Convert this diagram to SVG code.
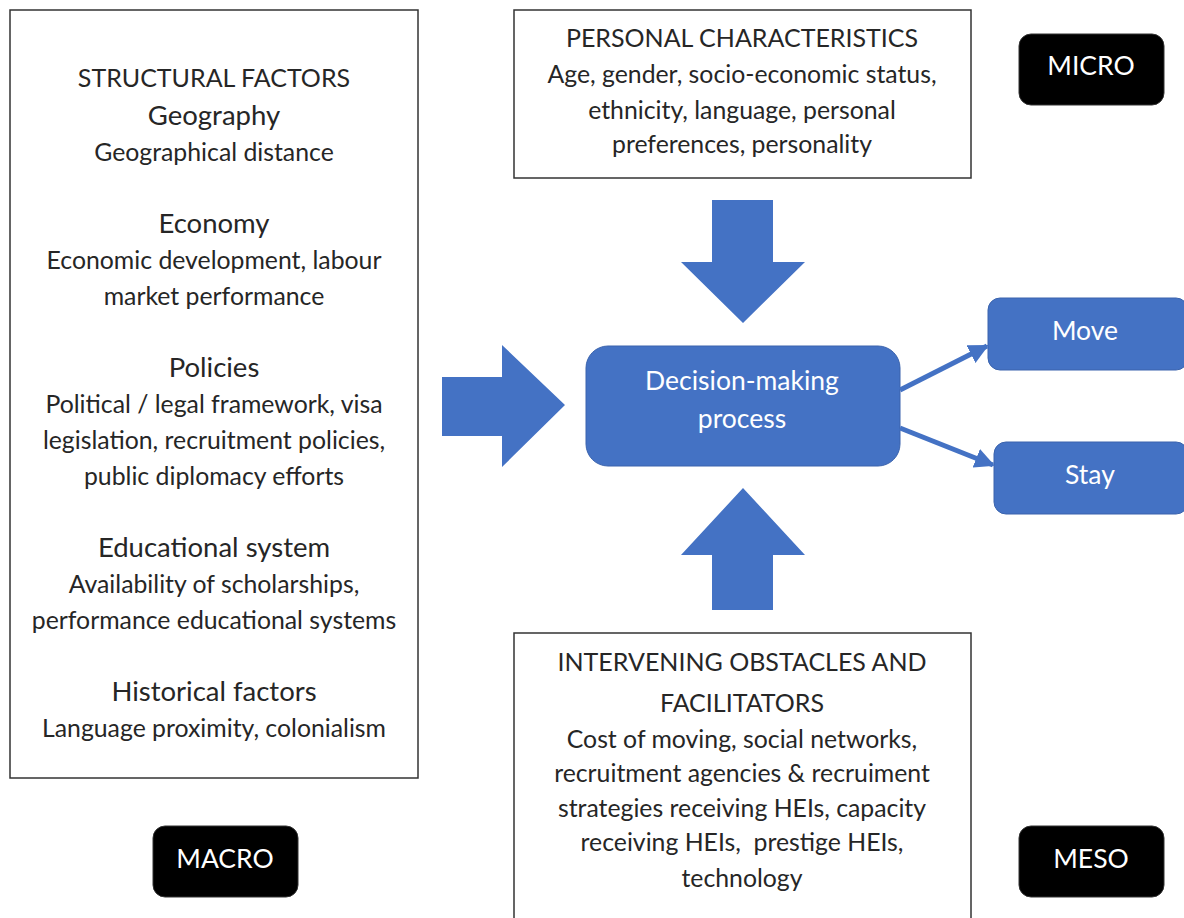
<svg xmlns="http://www.w3.org/2000/svg" width="1184" height="918" viewBox="0 0 1184 918">
<style>
.box{fill:#fff;stroke:#333;stroke-width:1.5}
.lvl{fill:#000;stroke:#333;stroke-width:1}
.blue{fill:#4472C4;stroke:#3a63ad;stroke-width:1}
.arr{fill:#4472C4}
text{font-family:Lato,"Open Sans","Liberation Sans",sans-serif;text-anchor:middle;fill:#262626}
.h{font-size:27.5px}
.c{font-size:25px}
.s{font-size:24.8px}
.w{fill:#fff;font-size:26.5px}
</style>
<defs>
<marker id="ah" viewBox="0 0 10 10" refX="9" refY="5" markerWidth="4" markerHeight="4" orient="auto" markerUnits="strokeWidth">
<path d="M0,0 L10,5 L0,10 z" fill="#4472C4"/>
</marker>
</defs>
<g id="structural">
<rect class="box" x="10" y="10" width="408" height="768"/>
<text class="c" x="214" y="87">STRUCTURAL FACTORS</text>
<text class="h" x="214" y="125">Geography</text>
<text class="s" x="214" y="161">Geographical distance</text>
<text class="h" x="214" y="233">Economy</text>
<text class="s" x="214" y="269">Economic development, labour</text>
<text class="s" x="214" y="305">market performance</text>
<text class="h" x="214" y="377">Policies</text>
<text class="s" x="214" y="413">Political / legal framework, visa</text>
<text class="s" x="214" y="449">legislation, recruitment policies,</text>
<text class="s" x="214" y="485">public diplomacy efforts</text>
<text class="h" x="214" y="557">Educational system</text>
<text class="s" x="214" y="593">Availability of scholarships,</text>
<text class="s" x="214" y="629">performance educational systems</text>
<text class="h" x="214" y="701">Historical factors</text>
<text class="s" x="214" y="737">Language proximity, colonialism</text>
</g>
<g id="personal">
<rect class="box" x="514" y="10" width="457" height="168"/>
<text class="c" x="742" y="47">PERSONAL CHARACTERISTICS</text>
<text class="s" x="742" y="83">Age, gender, socio-economic status,</text>
<text class="s" x="742" y="119">ethnicity, language, personal</text>
<text class="s" x="742" y="153">preferences, personality</text>
</g>
<g id="obstacles">
<rect class="box" x="514" y="633" width="457" height="300"/>
<text class="c" x="742" y="671">INTERVENING OBSTACLES AND</text>
<text class="c" x="742" y="712">FACILITATORS</text>
<text class="s" x="742" y="748">Cost of moving, social networks,</text>
<text class="s" x="742" y="782">recruitment agencies &amp; recruiment</text>
<text class="s" x="742" y="817">strategies receiving HEIs, capacity</text>
<text class="s" x="742" y="851" xml:space="preserve">receiving HEIs,  prestige HEIs,</text>
<text class="s" x="742" y="887">technology</text>
</g>
<g id="decision">
<rect class="blue" x="586" y="346" width="314" height="120" rx="22"/>
<text class="w" x="742" y="390">Decision-making</text>
<text class="w" x="742" y="428">process</text>
</g>
<g id="move">
<rect class="blue" x="988" y="298" width="200" height="72" rx="12"/>
<text class="w" x="1085" y="340">Move</text>
</g>
<g id="stay">
<rect class="blue" x="994" y="442" width="194" height="72" rx="12"/>
<text class="w" x="1090" y="484">Stay</text>
</g>
<g id="micro">
<rect class="lvl" x="1019" y="34" width="145" height="71" rx="12"/>
<text class="w" x="1091" y="75">MICRO</text>
</g>
<g id="macro">
<rect class="lvl" x="153" y="826" width="145" height="71" rx="12"/>
<text class="w" x="225" y="868">MACRO</text>
</g>
<g id="meso">
<rect class="lvl" x="1019" y="826" width="145" height="71" rx="12"/>
<text class="w" x="1091" y="868">MESO</text>
</g>
<g id="connectors">
<polygon class="arr" points="712,200 773,200 773,262 805,262 743,323 681,262 712,262"/>
<polygon class="arr" points="712,610 773,610 773,555 805,555 743,488 681,555 712,555"/>
<polygon class="arr" points="442,377 502,377 502,345 565,405 502,467 502,436 442,436"/>
<line x1="900" y1="390" x2="987" y2="346" stroke="#4472C4" stroke-width="5" marker-end="url(#ah)"/>
<line x1="900" y1="428" x2="993" y2="465" stroke="#4472C4" stroke-width="5" marker-end="url(#ah)"/>
</g>
</svg>
